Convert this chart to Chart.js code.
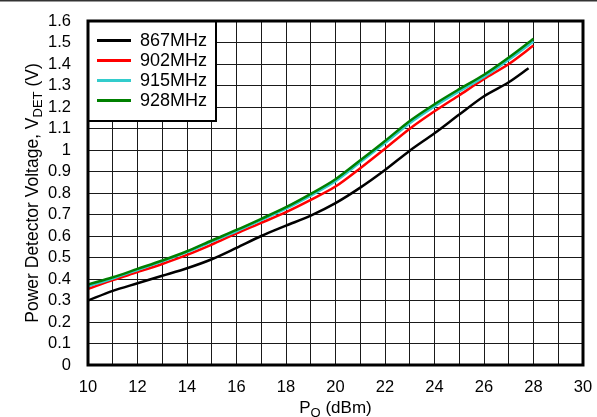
<!DOCTYPE html>
<html>
<head>
<meta charset="utf-8">
<script src="https://cdn.jsdelivr.net/npm/chart.js@4"></script>
<style>
html,body{margin:0;padding:0;background:#fff;}
#wrap{width:597px;height:417px;}
</style>
</head>
<body>
<div id="wrap"><canvas id="c" width="597" height="417"></canvas></div>
<script>
// Output power (dBm) sample points
const pout = [10,11,12,13,14,15,16,17,18,19,20,21,22,23,24,25,26,27,28];
const pout867 = [10,11,12,13,14,15,16,17,18,19,20,21,22,23,24,25,26,27,27.8];
// Detector voltage (V) per frequency
const v867 = [0.300,0.345,0.380,0.415,0.450,0.492,0.545,0.600,0.648,0.695,0.753,0.825,0.907,0.997,1.078,1.165,1.250,1.315,1.380];
const v902 = [0.354,0.395,0.432,0.470,0.512,0.560,0.612,0.661,0.711,0.768,0.830,0.915,1.006,1.099,1.180,1.255,1.330,1.400,1.486];
const v915 = [0.366,0.402,0.442,0.482,0.525,0.574,0.622,0.674,0.727,0.788,0.855,0.943,1.032,1.125,1.203,1.273,1.340,1.420,1.505];
const v928 = [0.374,0.408,0.447,0.486,0.529,0.579,0.628,0.680,0.734,0.796,0.864,0.952,1.042,1.135,1.213,1.283,1.350,1.430,1.517];
const seriesNames = ['867MHz','902MHz','915MHz','928MHz'];
const seriesColors = ['#000000','#ff0000','#33cccc','#008000'];
const xTitle = ['P','O',' (dBm)'];
const yTitle = ['Power Detector Voltage, V','DET',' (V)'];

const FONT = '"Liberation Sans", Arial, sans-serif';
const toPts = (xs, ys) => ys.map((y, i) => ({x: xs[i], y: y}));
const dataSets = [
  toPts(pout867, v867), toPts(pout, v902), toPts(pout, v915), toPts(pout, v928)
];

function drawSubText(ctx, parts, size, subSize) {
  ctx.font = size + 'px ' + FONT;
  const w0 = ctx.measureText(parts[0]).width;
  ctx.font = subSize + 'px ' + FONT;
  const w1 = ctx.measureText(parts[1]).width;
  ctx.font = size + 'px ' + FONT;
  const w2 = ctx.measureText(parts[2]).width;
  let x = -(w0 + w1 + w2) / 2;
  ctx.font = size + 'px ' + FONT;
  ctx.fillText(parts[0], x, 0); x += w0;
  ctx.font = subSize + 'px ' + FONT;
  ctx.fillText(parts[1], x, 4); x += w1;
  ctx.font = size + 'px ' + FONT;
  ctx.fillText(parts[2], x, 0);
}

const decor = {
  id: 'decor',
  afterDraw(chart) {
    const ctx = chart.ctx;
    const a = chart.chartArea;
    ctx.save();
    // top rule
    ctx.strokeStyle = '#333';
    ctx.lineWidth = 1.5;
    ctx.beginPath(); ctx.moveTo(0, 0.75); ctx.lineTo(597, 0.75); ctx.stroke();
    // legend box
    const lx0 = a.left, ly0 = a.top, lx1 = 216, ly1 = 121;
    ctx.fillStyle = '#fff';
    ctx.fillRect(lx0, ly0, lx1 - lx0, ly1 - ly0);
    ctx.strokeStyle = '#000';
    ctx.lineWidth = 2;
    ctx.strokeRect(lx0, ly0, lx1 - lx0, ly1 - ly0);
    const rows = [40.5, 60.5, 80.5, 100.5];
    ctx.font = '18px ' + FONT;
    ctx.textBaseline = 'middle';
    ctx.textAlign = 'left';
    seriesNames.forEach((n, i) => {
      ctx.strokeStyle = seriesColors[i];
      ctx.lineWidth = 3;
      ctx.beginPath(); ctx.moveTo(97, rows[i]); ctx.lineTo(131, rows[i]); ctx.stroke();
      ctx.fillStyle = '#000';
      ctx.fillText(n, 140, rows[i] + 1);
    });
    // plot frame
    ctx.strokeStyle = '#000';
    ctx.lineWidth = 3;
    ctx.strokeRect(a.left, a.top, a.right - a.left, a.bottom - a.top);
    // axis titles
    ctx.fillStyle = '#000';
    ctx.textBaseline = 'alphabetic';
    ctx.textAlign = 'left';
    ctx.save();
    ctx.translate((a.left + a.right) / 2, 413);
    drawSubText(ctx, xTitle, 17, 13);
    ctx.restore();
    ctx.save();
    ctx.translate(38, (a.top + a.bottom) / 2);
    ctx.rotate(-Math.PI / 2);
    drawSubText(ctx, yTitle, 17.5, 13);
    ctx.restore();
    ctx.restore();
  }
};

new Chart(document.getElementById('c'), {
  type: 'line',
  data: {
    datasets: dataSets.map((d, i) => ({
      label: seriesNames[i],
      data: d,
      borderColor: seriesColors[i],
      backgroundColor: seriesColors[i],
      borderWidth: 2.5,
      pointRadius: 0,
      tension: 0.3,
      fill: false,
      order: 3 - i
    }))
  },
  options: {
    responsive: false,
    animation: false,
    devicePixelRatio: 1,
    layout: {padding: {left: 0, top: 21, right: 14, bottom: 0}},
    plugins: {legend: {display: false}, tooltip: {enabled: false}},
    scales: {
      x: {
        type: 'linear', min: 10, max: 30,
        afterFit: s => { s.height = 52; s.paddingRight = 0; s.paddingLeft = 0; },
        border: {display: false},
        grid: {color: '#1a1a1a', lineWidth: 1, drawTicks: false},
        ticks: {
          stepSize: 1, autoSkip: false, maxRotation: 0, padding: 13,
          color: '#000', font: {family: FONT, size: 16.5},
          callback: v => (v % 2 === 0 ? String(v) : '')
        }
      },
      y: {
        type: 'linear', min: 0, max: 1.6,
        afterFit: s => { s.width = 88; s.paddingTop = 0; s.paddingBottom = 0; },
        border: {display: false},
        grid: {color: '#1a1a1a', lineWidth: 1, drawTicks: false},
        ticks: {
          stepSize: 0.1, autoSkip: false, padding: 17,
          color: '#000', font: {family: FONT, size: 16.5},
          callback: v => String(Number(v.toFixed(1)))
        }
      }
    }
  },
  plugins: [decor]
});
</script>
</body>
</html>
